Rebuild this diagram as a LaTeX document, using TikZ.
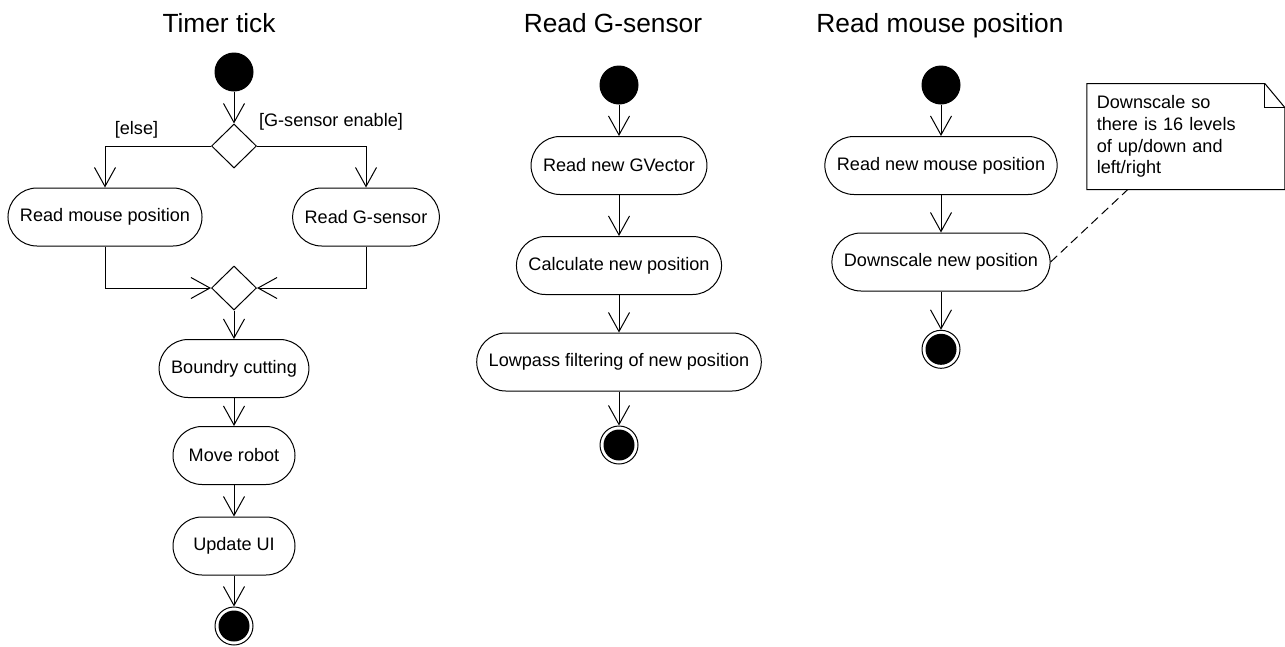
\documentclass[tikz,border=0pt]{standalone}
\usepackage{fontspec}
\setmainfont{Liberation Sans}
\usetikzlibrary{arrows.meta,shapes.geometric}

\begin{document}
\begin{tikzpicture}[x=1pt,y=-1pt,line width=1pt,
    every node/.style={font=\fontsize{18.1pt}{21.8pt}\selectfont},
    title/.style={anchor=base, font=\fontsize{26.3pt}{30pt}\selectfont},
    action/.style={draw, rectangle, rounded corners=29pt, minimum height=58pt, minimum width=122pt, inner xsep=12pt},
    decision/.style={draw, diamond, inner sep=0pt, minimum width=45pt, minimum height=44pt},
    start/.style={draw, circle, fill=black, inner sep=0pt, minimum size=38pt},
    stop/.style={draw, circle, inner sep=0pt, minimum size=38pt,
        path picture={\fill (path picture bounding box.center) circle (15.5pt);}},
    notebox/.style={minimum width=197pt, minimum height=105pt, text width=178pt, inner xsep=9.5pt, align=left},
    flow/.style={-{Straight Barb[length=19pt,width=21pt]}}]
    \useasboundingbox (0,0) rectangle (1285,646);
    % Titles
    \node[title] (t1) at (219,32) {Timer tick};
    \node[title] (t2) at (613,32) {Read G-sensor};
    \node[title] (t3) at (940,32) {Read mouse position};
    % Timer tick
    \node[start] (s1) at (234,72) {};
    \node[decision] (d1) at (234,146) {};
    \node[action] (rmp) at (105,217) {Read mouse position};
    \node[action] (rgs) at (366,217) {Read G-sensor};
    \node[decision] (m1) at (234,288) {};
    \node[action] (bc) at (234,368.5) {Boundry cutting};
    \node[action] (mr) at (234,455.5) {Move robot};
    \node[action] (ui) at (234,546) {Update UI};
    \node[stop] (e1) at (234,626) {};
    \node (gelse) at (136.5,130) {[else]};
    \node (gon) at (331,122) {[G-sensor enable]};
    \draw[flow] (s1) -- (d1);
    \draw[flow] (d1.west) -| (rmp.north);
    \draw[flow] (d1.east) -| (rgs.north);
    \draw[flow] (rmp.south) |- (m1.west);
    \draw[flow] (rgs.south) |- (m1.east);
    \draw[flow] (m1) -- (bc);
    \draw[flow] (bc) -- (mr);
    \draw[flow] (mr) -- (ui);
    \draw[flow] (ui) -- (e1);
    % Read G-sensor
    \node[start] (s2) at (619,85) {};
    \node[action] (rgv) at (619,165.5) {Read new GVector};
    \node[action] (calc) at (619,265.5) {Calculate new position};
    \node[action] (lowp) at (619,362) {Lowpass filtering of new position};
    \node[stop] (e2) at (619,445) {};
    \draw[flow] (s2) -- (rgv);
    \draw[flow] (rgv) -- (calc);
    \draw[flow] (calc) -- (lowp);
    \draw[flow] (lowp) -- (e2);
    % Read mouse position
    \node[start] (s3) at (941,85) {};
    \node[action] (rnm) at (941,165.5) {Read new mouse position};
    \node[action] (dsc) at (941,262) {Downscale new position};
    \node[stop] (e3) at (941,349.3) {};
    \draw[flow] (s3) -- (rnm);
    \draw[flow] (rnm) -- (dsc);
    \draw[flow] (dsc) -- (e3);
    % Note
    \node[notebox] (note) at (1185.8,136.5) {Downscale so\\there is 16 levels\\of up/down and\\left/right};
    \draw (note.south west) -- (note.north west) -- ([xshift=-20pt]note.north east) -- ([yshift=-24pt]note.north east) -- (note.south east) -- cycle;
    \draw ([xshift=-20pt]note.north east) |- ([yshift=-24pt]note.north east);
    \draw[dash pattern=on 9pt off 5pt] (dsc.east) -- ([xshift=41pt]note.south west);
\end{tikzpicture}
\end{document}
